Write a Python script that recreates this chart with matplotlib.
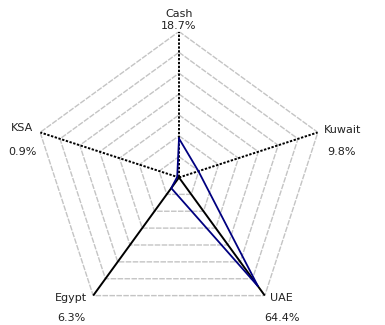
import numpy as np
import matplotlib.pyplot as plt

# Allocation by market (percent)
categories = ['Cash', 'Kuwait', 'UAE', 'Egypt', 'KSA']
values = [18.7, 9.8, 64.4, 6.3, 0.9]
value_labels = ['18.7%', '9.8%', '64.4%', '6.3%', '0.9%']
ring_levels = [10, 20, 30, 40, 50, 60, 70]
r_max = 70

angles = np.deg2rad(np.arange(len(categories)) * 360 / len(categories))

fig = plt.figure(figsize=(3.85, 3.25), dpi=100)
# axes box centred on the spoke hub, sized so r_max lands on the outer pentagon
ax = fig.add_axes([0.0857, 0.0046, 0.7584, 0.8985], projection='polar')
ax.set_theta_offset(np.pi / 2)
ax.set_theta_direction(-1)
ax.set_ylim(0, r_max)
ax.grid(False)
ax.set_xticks([])
ax.set_yticks([])
ax.spines['polar'].set_visible(False)

closed = np.append(angles, angles[0])

# pentagon rings
for lvl in ring_levels:
    ax.plot(closed, [lvl] * len(closed), color='#c4c4c4', lw=1.0,
            linestyle=(0, (4, 1)), zorder=1)

# spokes
for i, a in enumerate(angles):
    style = '-' if categories[i] in ('UAE', 'Egypt') else (0, (1.2, 0.8))
    ax.plot([a, a], [0, r_max], color='black', lw=1.4, linestyle=style, zorder=2)

# data series
ax.plot(closed, values + values[:1], color='#000080', lw=1.3, zorder=3)

# category names and values around the vertices (pixel offsets)
name_pos = {
    'Cash': ((0, 18), 'center'),
    'Kuwait': ((6, 2), 'left'),
    'UAE': ((5, -2), 'left'),
    'Egypt': ((-6, -2), 'right'),
    'KSA': ((-7, 4), 'right'),
}
value_pos = {
    'Cash': ((0, 6), 'center'),
    'Kuwait': ((9, -20), 'left'),
    'UAE': ((-1, -22), 'left'),
    'Egypt': ((-8, -22), 'right'),
    'KSA': ((-4, -20), 'right'),
}
for a, cat, lab in zip(angles, categories, value_labels):
    off, ha = name_pos[cat]
    ax.annotate(cat, xy=(a, r_max), xytext=off, textcoords='offset pixels',
                ha=ha, va='center', fontsize=8, color='#222222',
                annotation_clip=False)
    off, ha = value_pos[cat]
    ax.annotate(lab, xy=(a, r_max), xytext=off, textcoords='offset pixels',
                ha=ha, va='center', fontsize=8, color='#222222',
                annotation_clip=False)

fig.savefig('out.png', dpi=100)
